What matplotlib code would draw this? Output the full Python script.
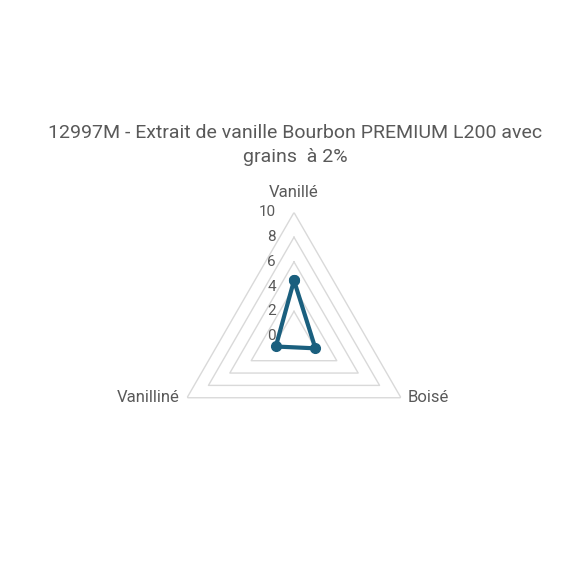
import numpy as np
import matplotlib
matplotlib.use("Agg")
import matplotlib.pyplot as plt

title = "12997M - Extrait de vanille Bourbon PREMIUM L200 avec\ngrains  à 2%"
categories = ["Vanillé", "Boisé", "Vanilliné"]
values = [4.5, 2.0, 1.7]
levels = [0, 2, 4, 6, 8, 10]

line_color = "#1a5f7e"
grid_color = "#d9d9d9"
text_color = "#595959"

plt.rcParams["font.family"] = ["Roboto", "DejaVu Sans"]

fig = plt.figure(figsize=(5.85, 5.85), dpi=100)
cx, cy, rad = 294 / 585, 249 / 585, 123.5 / 585
ax = fig.add_axes([cx - rad, cy - rad, 2 * rad, 2 * rad], projection="polar")
ax.set_theta_offset(np.pi / 2)
ax.set_theta_direction(-1)
ax.set_ylim(0, 10)
ax.set_axis_off()

angles = np.linspace(0, 2 * np.pi, len(categories), endpoint=False)
closed = np.concatenate([angles, angles[:1]])

# triangular grid
for lv in levels[1:]:
    ax.plot(closed, [lv] * len(closed), color=grid_color, lw=1.0, zorder=1)

# data
vals = values + values[:1]
ax.plot(closed, vals, color=line_color, lw=3, marker="o", markersize=7,
        solid_joinstyle="round", zorder=3, clip_on=False)

# value labels on the vertical axis
for lv in levels:
    ax.annotate(str(lv), xy=(0, lv), xytext=(-13, 0), textcoords="offset points",
                ha="right", va="center", fontsize=11, color=text_color)

# category labels
ax.annotate(categories[0], xy=(angles[0], 10), xytext=(0, 9), textcoords="offset points",
            ha="center", va="bottom", fontsize=12, color=text_color)
ax.annotate(categories[1], xy=(angles[1], 10), xytext=(5, 0), textcoords="offset points",
            ha="left", va="center", fontsize=12, color=text_color)
ax.annotate(categories[2], xy=(angles[2], 10), xytext=(-5, 0), textcoords="offset points",
            ha="right", va="center", fontsize=12, color=text_color)

fig.text(295 / 585, 1 - 145 / 585, title, ha="center", va="center", fontsize=14,
         color=text_color, linespacing=1.45)

fig.savefig("out.png", dpi=100, facecolor="white")
